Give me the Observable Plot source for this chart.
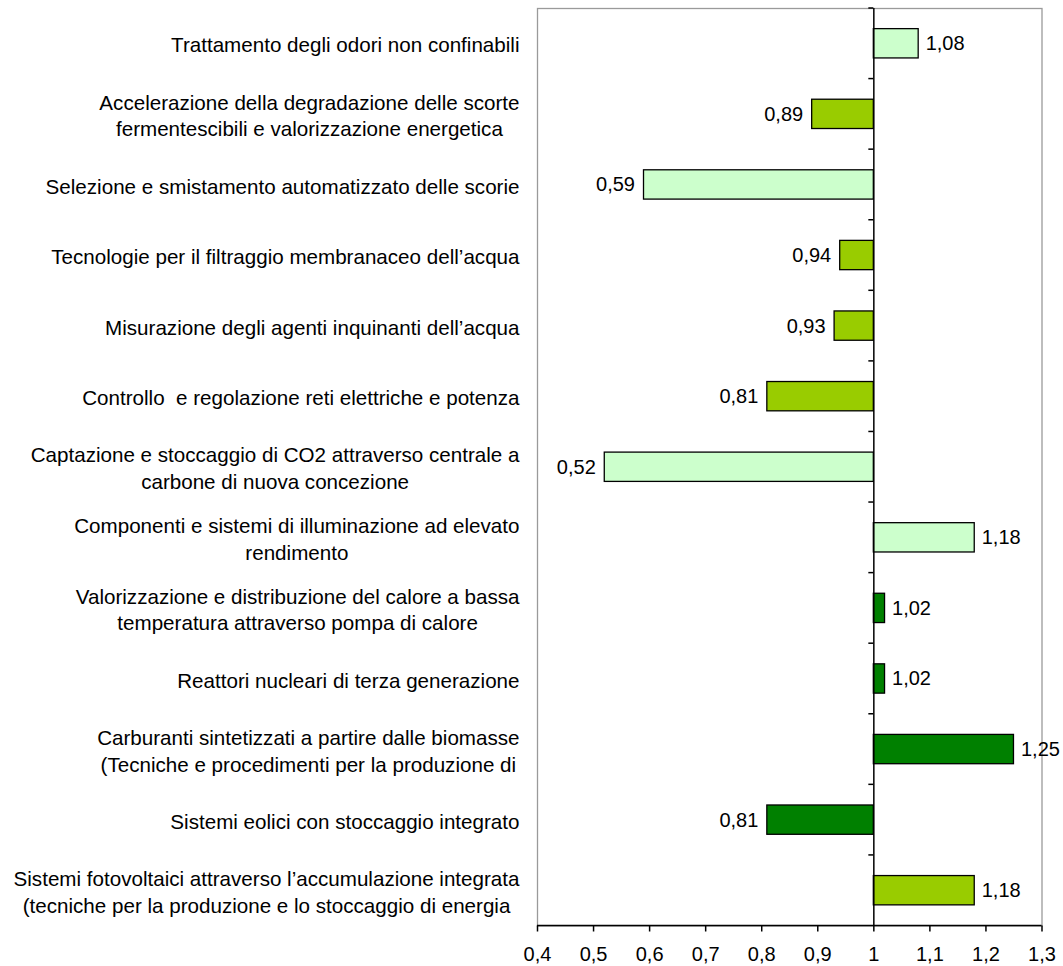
<!DOCTYPE html>
<html>
<head>
<meta charset="utf-8">
<script src="https://cdn.jsdelivr.net/npm/d3@7"></script>
<script src="https://cdn.jsdelivr.net/npm/@observablehq/plot@0.6"></script>
<style>
  html, body { margin: 0; padding: 0; background: #ffffff; }
  body { width: 1063px; height: 966px; overflow: hidden; }
</style>
</head>
<body>
<div id="chart"></div>
<script>
// Categories (top to bottom)
const categories = [
  "Trattamento degli odori non confinabili",
  "Accelerazione della degradazione delle scorte\nfermentescibili e valorizzazione energetica",
  "Selezione e smistamento automatizzato delle scorie",
  "Tecnologie per il filtraggio membranaceo dell’acqua",
  "Misurazione degli agenti inquinanti dell’acqua",
  "Controllo  e regolazione reti elettriche e potenza",
  "Captazione e stoccaggio di CO2 attraverso centrale a\ncarbone di nuova concezione",
  "Componenti e sistemi di illuminazione ad elevato\nrendimento",
  "Valorizzazione e distribuzione del calore a bassa\ntemperatura attraverso pompa di calore",
  "Reattori nucleari di terza generazione",
  "Carburanti sintetizzati a partire dalle biomasse\n(Tecniche e procedimenti per la produzione di",
  "Sistemi eolici con stoccaggio integrato",
  "Sistemi fotovoltaici attraverso l’accumulazione integrata\n(tecniche per la produzione e lo stoccaggio di energia"
];
// Values
const values = [1.08, 0.89, 0.59, 0.94, 0.93, 0.81, 0.52, 1.18, 1.02, 1.02, 1.25, 0.81, 1.18];
// Group of each bar (determines colour)
const groups = ["light", "mid", "light", "mid", "mid", "mid", "light", "light", "dark", "dark", "dark", "dark", "mid"];
const groupDomain = ["light", "mid", "dark"];
const groupColors = ["#CCFFCC", "#99CC00", "#008000"];
// Tick values
const xTicks = [0.4, 0.5, 0.6, 0.7, 0.8, 0.9, 1, 1.1, 1.2, 1.3];
const xTickLabels = ["0,4", "0,5", "0,6", "0,7", "0,8", "0,9", "1", "1,1", "1,2", "1,3"];
const baseline = 1;

const data = categories.map((name, i) => ({name, value: values[i], group: groups[i]}));
const fmt = v => v.toFixed(2).replace(".", ",");

const W = 1063, H = 966;
const mL = 537, mR = 21.5, mT = 8, mB = 40.5;
const step = (H - mT - mB) / categories.length;
const barH = 29.3;
const inset = (step - barH) / 2;

// custom mark: category boundary ticks on the baseline axis + black bottom axis line
function axisDecor(index, scales, values, dimensions) {
  const {width, height, marginLeft, marginRight, marginBottom} = dimensions;
  const g = d3.create("svg:g").attr("stroke", "#000").attr("stroke-width", 1.5).attr("fill", "none");
  const x0 = scales.x(baseline);
  categories.forEach((c) => {
    const yy = scales.y(c);
    g.append("line").attr("x1", x0 - 5).attr("x2", x0).attr("y1", yy).attr("y2", yy);
  });
  const yb = height - marginBottom;
  g.append("line").attr("x1", marginLeft).attr("x2", width - marginRight).attr("y1", yb).attr("y2", yb);
  return g.node();
}

const chart = Plot.plot({
  width: W,
  height: H,
  marginLeft: mL,
  marginRight: mR,
  marginTop: mT,
  marginBottom: mB,
  style: {fontFamily: "'Liberation Sans', Arial, sans-serif", fontSize: "20px", background: "#fff", color: "#000", overflow: "visible"},
  x: {domain: [0.4, 1.3], axis: null},
  y: {domain: categories, type: "band", padding: 0, round: false, axis: null},
  color: {domain: groupDomain, range: groupColors},
  marks: [
    Plot.frame({stroke: "#9a9a9a", strokeWidth: 1.3}),
    Plot.barX(data, {
      y: "name", x1: baseline, x2: "value", fill: "group",
      stroke: "#000", strokeWidth: 1.3, insetTop: inset, insetBottom: inset
    }),
    Plot.ruleX([baseline], {stroke: "#000", strokeWidth: 1.5}),
    axisDecor,
    Plot.axisX({
      ticks: xTicks,
      tickFormat: (d) => xTickLabels[xTicks.indexOf(d)],
      tickSize: 6, tickPadding: 15, fontSize: 20, stroke: "#000", strokeWidth: 1.5,
      fill: "#000", label: null
    }),
    Plot.text(data.filter(d => d.value >= baseline), {
      y: "name", x: "value", text: d => fmt(d.value),
      textAnchor: "start", dx: 7, fontSize: 20, fill: "#000"
    }),
    Plot.text(data.filter(d => d.value < baseline), {
      y: "name", x: "value", text: d => fmt(d.value),
      textAnchor: "end", dx: -9, fontSize: 20, fill: "#000"
    }),
    Plot.text(categories, {
      y: d => d, text: d => d, frameAnchor: "left", textAnchor: "end",
      dx: -18, lineHeight: 1.3, fontSize: 20.6, fill: "#000",
      ariaDescription: "catlabels"
    })
  ]
});

document.getElementById("chart").append(chart);

// Centre the lines of wrapped category labels within their right-aligned block
const labelGroup = chart.querySelector('g[aria-description="catlabels"]');
if (labelGroup) {
  labelGroup.style.whiteSpace = "pre";
  labelGroup.querySelectorAll("text").forEach((t) => {
    const spans = t.querySelectorAll("tspan");
    if (spans.length > 1) {
      const widths = Array.from(spans, s => s.getComputedTextLength());
      const maxW = Math.max(...widths);
      const x0 = parseFloat(t.getAttribute("x")) || 0;
      t.setAttribute("text-anchor", "middle");
      spans.forEach(s => s.setAttribute("x", x0 - maxW / 2));
    }
  });
}
</script>
</body>
</html>
